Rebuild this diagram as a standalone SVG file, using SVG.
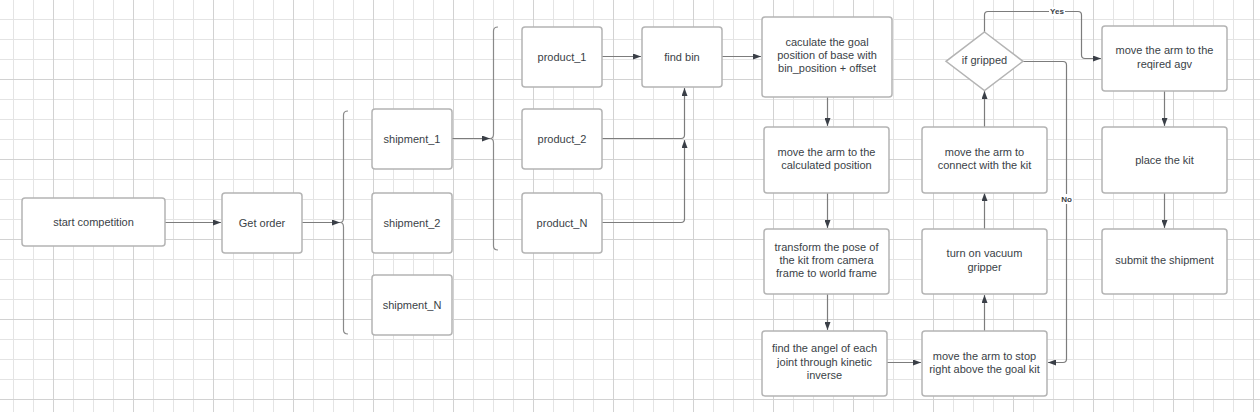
<svg xmlns="http://www.w3.org/2000/svg" width="1260" height="412" viewBox="0 0 1260 412">
<style>
.node rect, .node polygon { fill: #ffffff; stroke: #b4b4b4; stroke-width: 1.5; }
.node text { font-family: "Liberation Sans", Arial, sans-serif; font-size: 11px; fill: #3a3f47; text-anchor: middle; dominant-baseline: central; }
.conn { fill: none; stroke: #7c7c7c; stroke-width: 1.2; }
.brace { fill: none; stroke: #8a8a8a; stroke-width: 1.2; }
.lbl { font-family: "Liberation Sans", Arial, sans-serif; font-size: 8px; font-weight: bold; fill: #3a3f47; text-anchor: middle; dominant-baseline: central; }
</style>
<defs>
<pattern id="gmin" patternUnits="userSpaceOnUse" x="13" y="19" width="20" height="20">
<path d="M0.5,0 V20 M0,0.5 H20" stroke="#e4e4e4" stroke-width="1" fill="none"/>
</pattern>
<pattern id="gmaj" patternUnits="userSpaceOnUse" x="53" y="79" width="80" height="80">
<path d="M0.5,0 V80 M0,0.5 H80" stroke="#d2d2d2" stroke-width="1" fill="none"/>
</pattern>
<marker id="arr" markerWidth="8" markerHeight="6" refX="8" refY="3" orient="auto" markerUnits="userSpaceOnUse">
<path d="M0,0 L8,3 L0,6 z" fill="#3a3f47"/>
</marker>
</defs>
<rect width="1260" height="412" fill="#ffffff"/>
<rect width="1260" height="412" fill="url(#gmin)"/>
<rect width="1260" height="412" fill="url(#gmaj)"/>

<g id="connectors">
<path class="conn" d="M165,222.5 H221" marker-end="url(#arr)"/>
<path class="conn" d="M302,222.5 H340" marker-end="url(#arr)"/>
<path class="brace" d="M348,111 Q343.5,111 343.5,115 V218 Q343.5,222.5 340,222.5 Q343.5,222.5 343.5,227 V330 Q343.5,334 348,334"/>
<path class="conn" d="M452,138.5 H490" marker-end="url(#arr)"/>
<path class="brace" d="M498,27 Q493.5,27 493.5,31 V134 Q493.5,138.5 490,138.5 Q493.5,138.5 493.5,143 V246 Q493.5,250 498,250"/>
<path class="conn" d="M602,56.5 H641" marker-end="url(#arr)"/>
<path class="conn" d="M602,138.5 H681 Q684.5,138.5 684.5,135 V88" marker-end="url(#arr)"/>
<path class="conn" d="M602,222.5 H681 Q684.5,222.5 684.5,219 V140" marker-end="url(#arr)"/>
<path class="conn" d="M722,56.5 H761" marker-end="url(#arr)"/>
<path class="conn" d="M827.5,97 V126" marker-end="url(#arr)"/>
<path class="conn" d="M827.5,193 V228" marker-end="url(#arr)"/>
<path class="conn" d="M827.5,294 V330" marker-end="url(#arr)"/>
<path class="conn" d="M887,362.5 H921" marker-end="url(#arr)"/>
<path class="conn" d="M984.5,331 V295" marker-end="url(#arr)"/>
<path class="conn" d="M984.5,229 V193" marker-end="url(#arr)"/>
<path class="conn" d="M984.5,127 V91" marker-end="url(#arr)"/>
<path class="conn" d="M984.5,32 V15 Q984.5,11.5 988,11.5 H1078 Q1081.5,11.5 1081.5,15 V55 Q1081.5,58.5 1085,58.5 H1101" marker-end="url(#arr)"/>
<path class="conn" d="M1023,61.5 H1063 Q1066.5,61.5 1066.5,65 V359 Q1066.5,362.5 1063,362.5 H1048" marker-end="url(#arr)"/>
<path class="conn" d="M1164.5,91 V126" marker-end="url(#arr)"/>
<path class="conn" d="M1164.5,193 V228" marker-end="url(#arr)"/>
<rect x="1049" y="7" width="16" height="9" fill="#ffffff"/>
<text class="lbl" x="1057" y="11.5">Yes</text>
<rect x="1060" y="194" width="13" height="10" fill="#ffffff"/>
<text class="lbl" x="1066.5" y="199">No</text>
</g>

<g id="start" class="node"><rect x="22" y="198" width="143" height="48" rx="3"/><text x="93.5" y="222">start competition</text></g>
<g id="getorder" class="node"><rect x="222" y="193" width="80" height="60" rx="3"/><text x="262" y="222.5">Get order</text></g>
<g id="shipment1" class="node"><rect x="372" y="109" width="80" height="60" rx="3"/><text x="412" y="138.5">shipment_1</text></g>
<g id="shipment2" class="node"><rect x="372" y="193" width="80" height="60" rx="3"/><text x="412" y="222.5">shipment_2</text></g>
<g id="shipmentN" class="node"><rect x="372" y="275" width="80" height="60" rx="3"/><text x="412" y="304.5">shipment_N</text></g>
<g id="product1" class="node"><rect x="522" y="27" width="80" height="60" rx="3"/><text x="562" y="56.5">product_1</text></g>
<g id="product2" class="node"><rect x="522" y="109" width="80" height="60" rx="3"/><text x="562" y="138.5">product_2</text></g>
<g id="productN" class="node"><rect x="522" y="193" width="80" height="60" rx="3"/><text x="562" y="222.5">product_N</text></g>
<g id="findbin" class="node"><rect x="642" y="27" width="80" height="60" rx="3"/><text x="682" y="56.5">find bin</text></g>
<g id="calc" class="node"><rect x="762" y="17" width="130" height="80" rx="3"/><text x="827" y="41.7">caculate the goal</text><text x="827" y="55">position of base with</text><text x="827" y="68.3">bin_position + offset</text></g>
<g id="movecalc" class="node"><rect x="764" y="127" width="125" height="66" rx="3"/><text x="826.5" y="152.3">move the arm to the</text><text x="826.5" y="165.3">calculated position</text></g>
<g id="transform" class="node"><rect x="764" y="229" width="125" height="65" rx="3"/><text x="826.5" y="247.3">transform the pose of</text><text x="826.5" y="260.3">the kit from camera</text><text x="826.5" y="273.3">frame to world frame</text></g>
<g id="findangle" class="node"><rect x="762" y="331" width="125" height="65" rx="3"/><text x="824.5" y="348.3">find the angel of each</text><text x="824.5" y="361.7">joint through kinetic</text><text x="824.5" y="375.3">inverse</text></g>
<g id="movestop" class="node"><rect x="922" y="331" width="125" height="65" rx="3"/><text x="984.5" y="355.7">move the arm to stop</text><text x="984.5" y="369">right above the goal kit</text></g>
<g id="vacuum" class="node"><rect x="922" y="229" width="125" height="65" rx="3"/><text x="984.5" y="253.3">turn on vacuum</text><text x="984.5" y="267.3">gripper</text></g>
<g id="connect" class="node"><rect x="922" y="127" width="125" height="66" rx="3"/><text x="984.5" y="152.3">move the arm to</text><text x="984.5" y="165.3">connect with the kit</text></g>
<g id="gripped" class="node"><polygon points="984.5,32 1023,61.3 984.5,90.5 946,61.3"/><text x="984.5" y="59.5">if gripped</text></g>
<g id="moveagv" class="node"><rect x="1102" y="26" width="125" height="65" rx="3"/><text x="1164.5" y="50">move the arm to the</text><text x="1164.5" y="64">reqired agv</text></g>
<g id="place" class="node"><rect x="1102" y="127" width="125" height="66" rx="3"/><text x="1164.5" y="159.5">place the kit</text></g>
<g id="submit" class="node"><rect x="1102" y="229" width="125" height="65" rx="3"/><text x="1164.5" y="260">submit the shipment</text></g>
</svg>
